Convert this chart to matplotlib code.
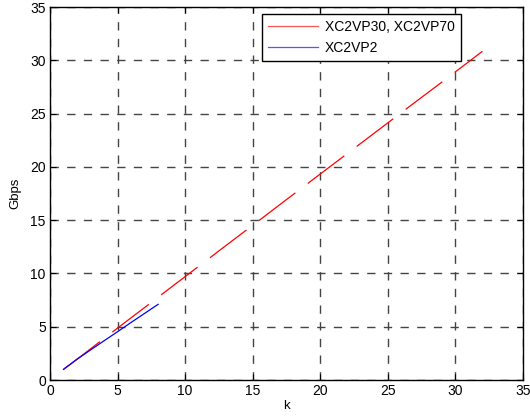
import matplotlib
matplotlib.use("Agg")
import matplotlib.pyplot as plt
from matplotlib.lines import Line2D

plt.rcParams['font.family'] = ['Liberation Sans', 'DejaVu Sans']

k_red = list(range(1, 33))
gbps_red = [1.0, 1.95, 2.92, 3.9, 4.87, 5.84, 6.8, 7.77, 8.74, 9.7,
            10.67, 11.63, 12.6, 13.56, 14.52, 15.48, 16.45, 17.41, 18.37, 19.33,
            20.29, 21.25, 22.21, 23.17, 24.13, 25.09, 26.05, 27.0, 27.96, 28.92,
            29.88, 30.85]
k_blue = list(range(1, 9))
gbps_blue = [1.0, 1.95, 2.82, 3.68, 4.53, 5.4, 6.25, 7.1]

labels = ['XC2VP30, XC2VP70', 'XC2VP2']
xticks = [0, 5, 10, 15, 20, 25, 30, 35]
yticks = [0, 5, 10, 15, 20, 25, 30, 35]

plt.rcParams['lines.scale_dashes'] = False
fig = plt.figure(figsize=(5.30, 4.17), dpi=100)
ax = fig.add_axes([0.0943, 0.0887, 0.8925, 0.8945])

ax.plot(k_red, gbps_red, color='#ff0000', linewidth=0.9, zorder=3,
        linestyle=(0, (33, 11.2)))
ax.plot(k_blue, gbps_blue, color='#0000ff', linewidth=0.9, zorder=4)

ax.set_xlim(0, 35)
ax.set_ylim(0, 35)
ax.set_xticks(xticks)
ax.set_yticks(yticks)
ax.grid(True, color='#444444', linewidth=1.0, linestyle=(0, (6, 6)), zorder=1)
ax.set_axisbelow(True)
ax.tick_params(direction='in', top=True, right=True, length=4, width=0.8,
               labelsize=10, pad=3)
for s in ax.spines.values():
    s.set_linewidth(1.0)
ax.set_xlabel('k', fontsize=9.5, labelpad=1)
ax.set_ylabel('Gbps', fontsize=9.5, labelpad=6)

handles = [Line2D([], [], color='#ff5555', linewidth=0.9),
           Line2D([], [], color='#5555ff', linewidth=0.9)]
leg = ax.legend(handles, labels, loc='upper left', bbox_to_anchor=(0.4475, 0.982),
                fontsize=10, frameon=True, fancybox=False, edgecolor='black',
                framealpha=1, borderpad=0.45, handlelength=3.6, handletextpad=0.5,
                labelspacing=0.5, borderaxespad=0)
leg.get_frame().set_linewidth(1.0)

fig.savefig('out.png', dpi=100)
